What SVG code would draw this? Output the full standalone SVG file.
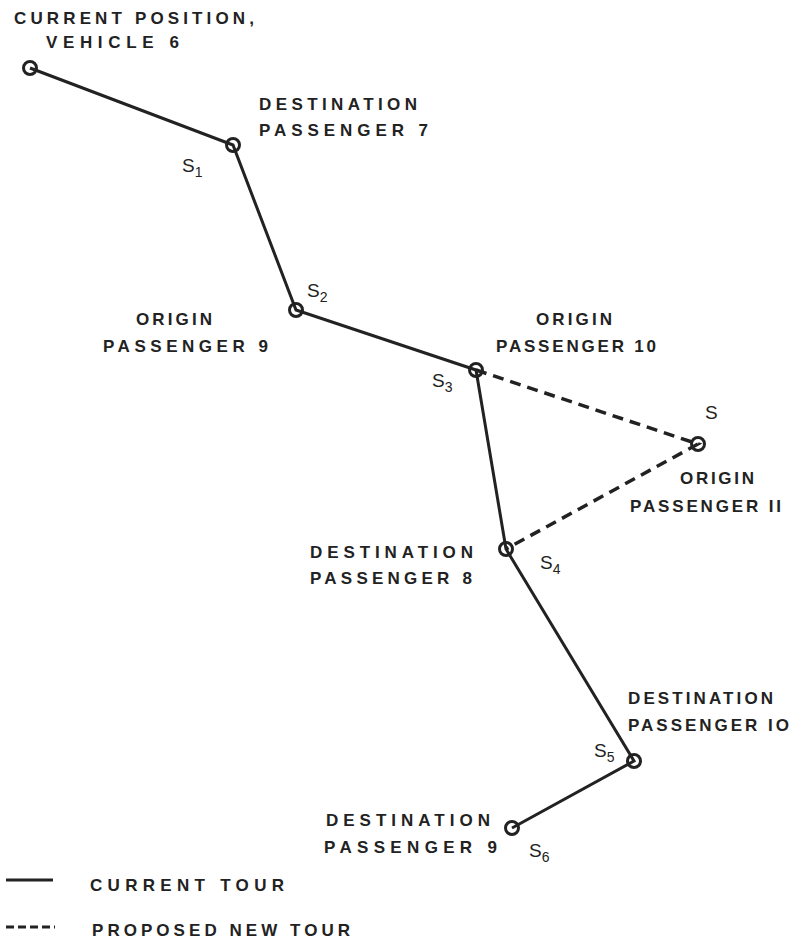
<svg xmlns="http://www.w3.org/2000/svg" width="801" height="940" viewBox="0 0 801 940">
<style>
text{font-family:"Liberation Sans",Arial,sans-serif;font-size:17px;font-weight:bold;fill:#222}
.s{font-size:19px;font-weight:normal}
.sub{font-size:14px}
.cur{stroke:#222;stroke-width:3;fill:none}
.new{stroke:#222;stroke-width:3.5;fill:none;stroke-dasharray:11 7}
.node{fill:none;stroke:#222;stroke-width:3}
</style>
<rect width="801" height="940" fill="#fff"/>
<g id="connectors">
<polyline class="cur" points="30,68 233,145 296,310 476,370 506,549 634,761 512,828"/>
<polyline class="new" points="476,370 698,444 506,549"/>
</g>
<g id="n0"><circle class="node" cx="30" cy="68" r="6.5"/>
<text x="14" y="24" textLength="240" lengthAdjust="spacing">CURRENT POSITION,</text>
<text x="46" y="48" textLength="133" lengthAdjust="spacing">VEHICLE 6</text></g>
<g id="n1"><circle class="node" cx="233" cy="145" r="6.5"/>
<text x="259" y="110" textLength="158" lengthAdjust="spacing">DESTINATION</text>
<text x="259" y="136" textLength="169" lengthAdjust="spacing">PASSENGER 7</text>
<text class="s" x="182" y="172">S<tspan class="sub" dy="5">1</tspan></text></g>
<g id="n2"><circle class="node" cx="296" cy="310" r="6.5"/>
<text x="136" y="325" textLength="76" lengthAdjust="spacing">ORIGIN</text>
<text x="103" y="352" textLength="165" lengthAdjust="spacing">PASSENGER 9</text>
<text class="s" x="307" y="297">S<tspan class="sub" dy="5">2</tspan></text></g>
<g id="n3"><circle class="node" cx="476" cy="370" r="6.5"/>
<text x="536" y="325" textLength="76" lengthAdjust="spacing">ORIGIN</text>
<text x="496" y="352" textLength="160" lengthAdjust="spacing">PASSENGER 10</text>
<text class="s" x="432" y="387">S<tspan class="sub" dy="5">3</tspan></text></g>
<g id="n7"><circle class="node" cx="698" cy="444" r="6.5"/>
<text class="s" x="705" y="419">S</text>
<text x="680" y="484" textLength="74" lengthAdjust="spacing">ORIGIN</text>
<text x="630" y="512" textLength="151" lengthAdjust="spacing">PASSENGER II</text></g>
<g id="n4"><circle class="node" cx="506" cy="549" r="6.5"/>
<text x="310" y="558" textLength="163" lengthAdjust="spacing">DESTINATION</text>
<text x="310" y="584" textLength="162" lengthAdjust="spacing">PASSENGER 8</text>
<text class="s" x="540" y="569">S<tspan class="sub" dy="5">4</tspan></text></g>
<g id="n5"><circle class="node" cx="634" cy="761" r="6.5"/>
<text x="628" y="704" textLength="145" lengthAdjust="spacing">DESTINATION</text>
<text x="628" y="731" textLength="161" lengthAdjust="spacing">PASSENGER IO</text>
<text class="s" x="594" y="757">S<tspan class="sub" dy="5">5</tspan></text></g>
<g id="n6"><circle class="node" cx="512" cy="828" r="6.5"/>
<text x="326" y="826" textLength="164" lengthAdjust="spacing">DESTINATION</text>
<text x="324" y="853" textLength="173" lengthAdjust="spacing">PASSENGER 9</text>
<text class="s" x="529" y="857">S<tspan class="sub" dy="5">6</tspan></text></g>
<g id="legend">
<line class="cur" x1="6" y1="880" x2="53" y2="880"/>
<text x="90" y="891" textLength="194" lengthAdjust="spacing">CURRENT TOUR</text>
<line x1="6" y1="927" x2="55" y2="927" stroke="#222" stroke-width="3" stroke-dasharray="8 4"/>
<text x="92" y="936" textLength="258" lengthAdjust="spacing">PROPOSED NEW TOUR</text>
</g>
</svg>
